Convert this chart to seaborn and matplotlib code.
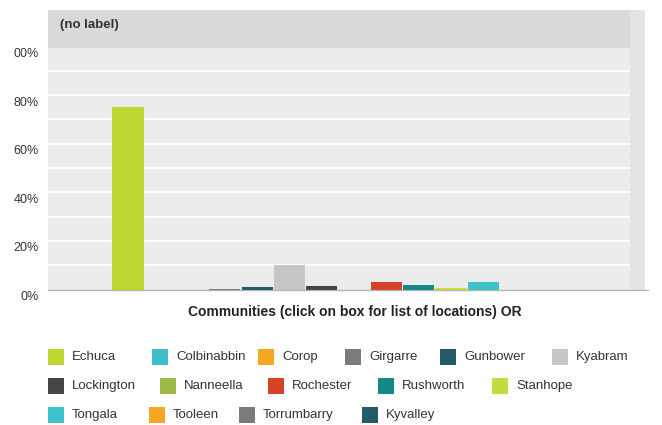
import matplotlib
matplotlib.use("Agg")
import matplotlib.pyplot as plt
import matplotlib.transforms as mtransforms
from matplotlib.patches import Rectangle
from matplotlib.lines import Line2D
import seaborn as sns
import pandas as pd

# Share of respondents per community (%)
communities = ["Echuca", "Colbinabbin", "Corop", "Girgarre", "Gunbower", "Kyabram",
               "Lockington", "Nanneella", "Rochester", "Rushworth", "Stanhope",
               "Tongala", "Tooleen", "Torrumbarry", "Kyvalley"]
shares = [75, 0, 0, 0.4, 1.2, 10, 1.5, 0, 3, 1.8, 0.8, 3, 0, 0, 0]
colors = ["#bfd630", "#3cbfcb", "#f5a623", "#7b7b7b", "#245b6b", "#c6c6c6",
          "#454545", "#9cb845", "#d6432b", "#15898a", "#c4da3f",
          "#3dc2c9", "#f5a623", "#7b7b7b", "#245b6b"]
y_ticks = [0, 20, 40, 60, 80, 100]
y_tick_labels = ["0%", "20%", "40%", "60%", "80%", "00%"]
x_title = "Communities (click on box for list of locations) OR"
header = "(no label)"

# legend layout: rows of (item index, left edge in px)
legend_rows = [
    [(0, 48), (1, 152), (2, 258), (3, 345), (4, 440), (5, 552)],
    [(6, 48), (7, 160), (8, 268), (9, 378), (10, 492)],
    [(11, 48), (12, 149), (13, 239), (14, 362)],
]
legend_row_y = [357, 386, 415]

W, H = 662, 425
sns.set_theme(style="white")
plt.rcParams["font.family"] = ["Liberation Sans", "DejaVu Sans"]

fig = plt.figure(figsize=(W / 100, H / 100), dpi=100)
fig.patch.set_facecolor("white")

ax_left, ax_right = 48, 630
ax_top, ax_bottom = 10, 289.5
ax = fig.add_axes([ax_left / W, (H - ax_bottom) / H,
                   (ax_right - ax_left) / W, (ax_bottom - ax_top) / H])
ax.set_facecolor("#ececec")

df = pd.DataFrame({"community": communities, "share": shares})
sns.barplot(data=df, x="community", y="share", hue="community",
            palette=colors, width=0.96, legend=False, ax=ax,
            saturation=1, linewidth=0, zorder=3)

slot_px = 32.3
ax.set_xlim(-(128 - ax_left) / slot_px, -(128 - ax_left) / slot_px + (ax_right - ax_left) / slot_px)
ax.set_ylim(0, 115)

# white gridlines every 10%
for g in range(10, 100, 10):
    ax.axhline(g, color="white", lw=1.3, zorder=1)

# header band
ax.axhspan(99.5, 115, color="#d9d9d9", zorder=2, lw=0)
fig.text(60 / W, 1 - 25 / H, header, fontsize=9.5, fontweight="bold",
         color="#333333", va="center", ha="left", zorder=4)

ax.set_xticks([])
ax.set_xlabel("")
ax.set_ylabel("")
ax.set_yticks(y_ticks)
ax.set_yticklabels(y_tick_labels)
ax.tick_params(axis="y", length=0, pad=6.5, labelsize=9, labelcolor="#333333")
shift = mtransforms.ScaledTranslation(0, -6 / 100, fig.dpi_scale_trans)
for lbl in ax.get_yticklabels():
    lbl.set_transform(lbl.get_transform() + shift)
for s in ["top", "right", "left"]:
    ax.spines[s].set_visible(False)
ax.spines["bottom"].set_color("#b5b5b5")
ax.spines["bottom"].set_linewidth(1)

# right margin strip of the panel
fig.patches.append(Rectangle((ax_right / W, (H - ax_bottom) / H), 15 / W,
                             (ax_bottom - ax_top) / H, transform=fig.transFigure,
                             facecolor="#e4e4e4", edgecolor="none", zorder=0))
fig.lines.append(Line2D([ax_right / W, 648 / W], [(H - ax_bottom) / H] * 2,
                        transform=fig.transFigure, color="#b5b5b5", lw=1))

fig.text(355 / W, 1 - 312 / H, x_title, ha="center", va="center",
         fontsize=10, fontweight="bold", color="#222222")

# legend
for row, yy in zip(legend_rows, legend_row_y):
    for idx, x0 in row:
        fig.patches.append(Rectangle((x0 / W, 1 - (yy + 8) / H), 16 / W, 16 / H,
                                     transform=fig.transFigure, facecolor=colors[idx],
                                     edgecolor="none"))
        fig.text((x0 + 24) / W, 1 - yy / H, communities[idx], ha="left", va="center",
                 fontsize=9.5, color="#333333")

fig.savefig("out.png", dpi=100)
